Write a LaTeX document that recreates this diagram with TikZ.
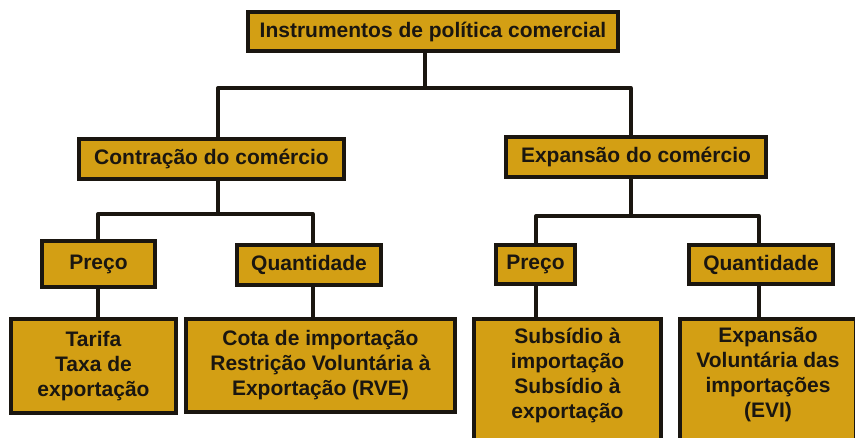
\documentclass[tikz,border=0pt]{standalone}
\usepackage{fontspec}
\setmainfont{Liberation Sans}
\definecolor{gold}{RGB}{211,159,20}
\definecolor{ink}{RGB}{26,22,16}
\begin{document}
\begin{tikzpicture}[x=1pt,y=-1pt,
  box/.style={draw=ink, fill=gold, line width=4pt, rectangle, inner sep=0pt,
    align=center, text=ink, font={\fontsize{21}{25}\selectfont\bfseries}},
  txt/.style={inner sep=0pt, align=center, text=ink, font={\fontsize{21}{25}\selectfont\bfseries}},
  conn/.style={draw=ink, line width=3.3pt, line join=round, line cap=round}]
\useasboundingbox (0,0) rectangle (855,437);
\clip (0,0) rectangle (855,437);
\fill[white] (0,0) rectangle (855,437);

% boxes
\node[box, minimum width=370pt, minimum height=39pt] (top) at (433,31.5) {Instrumentos de política comercial};
\node[box, minimum width=265pt, minimum height=40pt] (contr) at (211.5,159) {Contração do comércio};
\node[box, minimum width=260pt, minimum height=40pt] (expa) at (636,157) {Expansão do comércio};
\node[box, minimum width=113pt, minimum height=46pt] (precoL) at (98.5,264) {Preço};
\node[box, minimum width=144pt, minimum height=40pt] (quantL) at (309,265) {Quantidade};
\node[box, minimum width=79pt, minimum height=39pt] (precoR) at (535.5,264.5) {Preço};
\node[box, minimum width=144pt, minimum height=39pt] (quantR) at (761,264.5) {Quantidade};
\node[box, minimum width=165pt, minimum height=94pt] (tarifa) at (93.5,366) {Tarifa\\Taxa de\\exportação};
\node[box, minimum width=269pt, minimum height=93pt] (cota) at (320.5,365) {Cota de importação\\Restrição Voluntária à\\Exportação (RVE)};
\node[box, minimum width=187pt, minimum height=151pt] (sub) at (567.5,394.5) {};
\node[txt] (subtxt) at (567.5,375) {Subsídio à\\importação\\Subsídio à\\exportação};
\node[box, minimum width=176pt, minimum height=151pt] (evi) at (768,394.5) {};
\node[txt] (evitxt) at (768,375) {Expansão\\Voluntária das\\importações\\(EVI)};

% junctions
\coordinate (a) at (425,88);
\coordinate (xc) at (218,88);
\coordinate (xe) at (631,88);
\coordinate (lb) at (218,214);
\coordinate (lp) at (98,214);
\coordinate (lq) at (313,214);
\coordinate (rb) at (631,216);
\coordinate (rp) at (536,216);
\coordinate (rq) at (759,216);

% connectors
\draw[conn] (top.south -| a) -- (a);
\draw[conn] (contr.north -| xc) |- (xe) -- (expa.north -| xe);
\draw[conn] (contr.south -| lb) -- (lb);
\draw[conn] (precoL.north -| lp) |- (lq) -- (quantL.north -| lq);
\draw[conn] (precoL.south -| lp) -- (tarifa.north -| lp);
\draw[conn] (quantL.south -| lq) -- (cota.north -| lq);
\draw[conn] (expa.south -| rb) -- (rb);
\draw[conn] (precoR.north -| rp) |- (rq) -- (quantR.north -| rq);
\draw[conn] (precoR.south -| rp) -- (sub.north -| rp);
\draw[conn] (quantR.south -| rq) -- (evi.north -| rq);
\end{tikzpicture}
\end{document}
